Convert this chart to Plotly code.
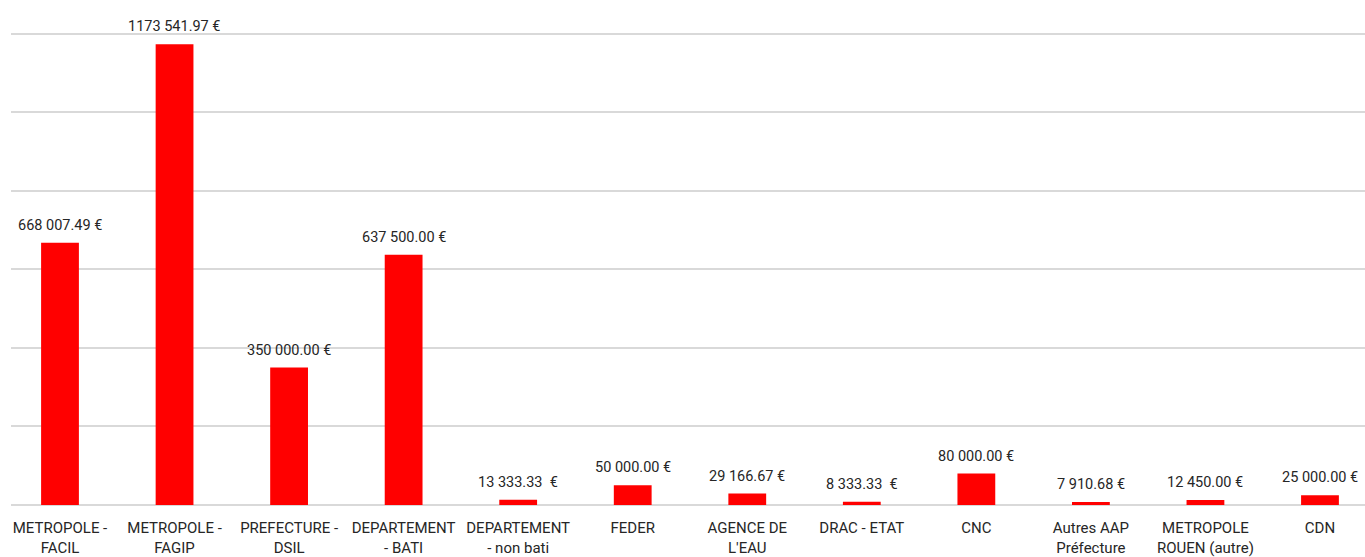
import plotly.graph_objects as go

categories = ["METROPOLE -<br>FACIL", "METROPOLE -<br>FAGIP", "PREFECTURE -<br>DSIL",
              "DEPARTEMENT<br>- BATI", "DEPARTEMENT<br>- non bati", "FEDER",
              "AGENCE DE<br>L'EAU", "DRAC - ETAT", "CNC", "Autres AAP<br>Préfecture",
              "METROPOLE<br>ROUEN (autre)", "CDN"]
values = [668007.49, 1173541.97, 350000.00, 637500.00, 13333.33, 50000.00,
          29166.67, 8333.33, 80000.00, 7910.68, 12450.00, 25000.00]
labels = ["668 007.49 €", "1173 541.97 €", "350 000.00 €", "637 500.00 €", "13 333.33  €",
          "50 000.00 €", "29 166.67 €", "8 333.33  €", "80 000.00 €", "7 910.68 €",
          "12 450.00 €", "25 000.00 €"]
y_ticks = [0, 200000, 400000, 600000, 800000, 1000000, 1200000]

font_family = "Roboto, Noto Sans, sans-serif"
text_color = "#262626"

xs = list(range(len(categories)))
fig = go.Figure(go.Bar(
    x=xs, y=values,
    marker=dict(color="#ff0000", line=dict(width=0)),
    width=0.33, hoverinfo="skip",
))
for x, v, t in zip(xs, values, labels):
    fig.add_annotation(x=x, y=v, text=t, showarrow=False, yanchor="bottom",
                       yshift=7, font=dict(family=font_family, size=14.5, color=text_color))

fig.update_layout(
    width=1365, height=557,
    margin=dict(l=11, r=0, t=30, b=48),
    paper_bgcolor="white", plot_bgcolor="white",
    showlegend=False,
    font=dict(family=font_family, size=15, color=text_color),
    xaxis=dict(range=[-0.4278, 11.393], tickmode="array",
               tickvals=xs, ticktext=categories,
               showgrid=False, zeroline=False, showline=False, ticks="",
               ticklabelstandoff=12,
               tickfont=dict(family=font_family, size=15, color=text_color)),
    yaxis=dict(range=[0, 1210000], tickvals=y_ticks, showticklabels=False,
               showgrid=True, gridcolor="#d9d9d9", gridwidth=1.5,
               zeroline=True, zerolinecolor="#d9d9d9", zerolinewidth=1.5),
)
fig.write_html("out.html", config={"displayModeBar": False})
with open("out.html", encoding="utf-8") as f:
    html = f.read()
html = html.replace("<head>", "<head><style>body{margin:0;padding:0;overflow:hidden;}</style>", 1)
with open("out.html", "w", encoding="utf-8") as f:
    f.write(html)
